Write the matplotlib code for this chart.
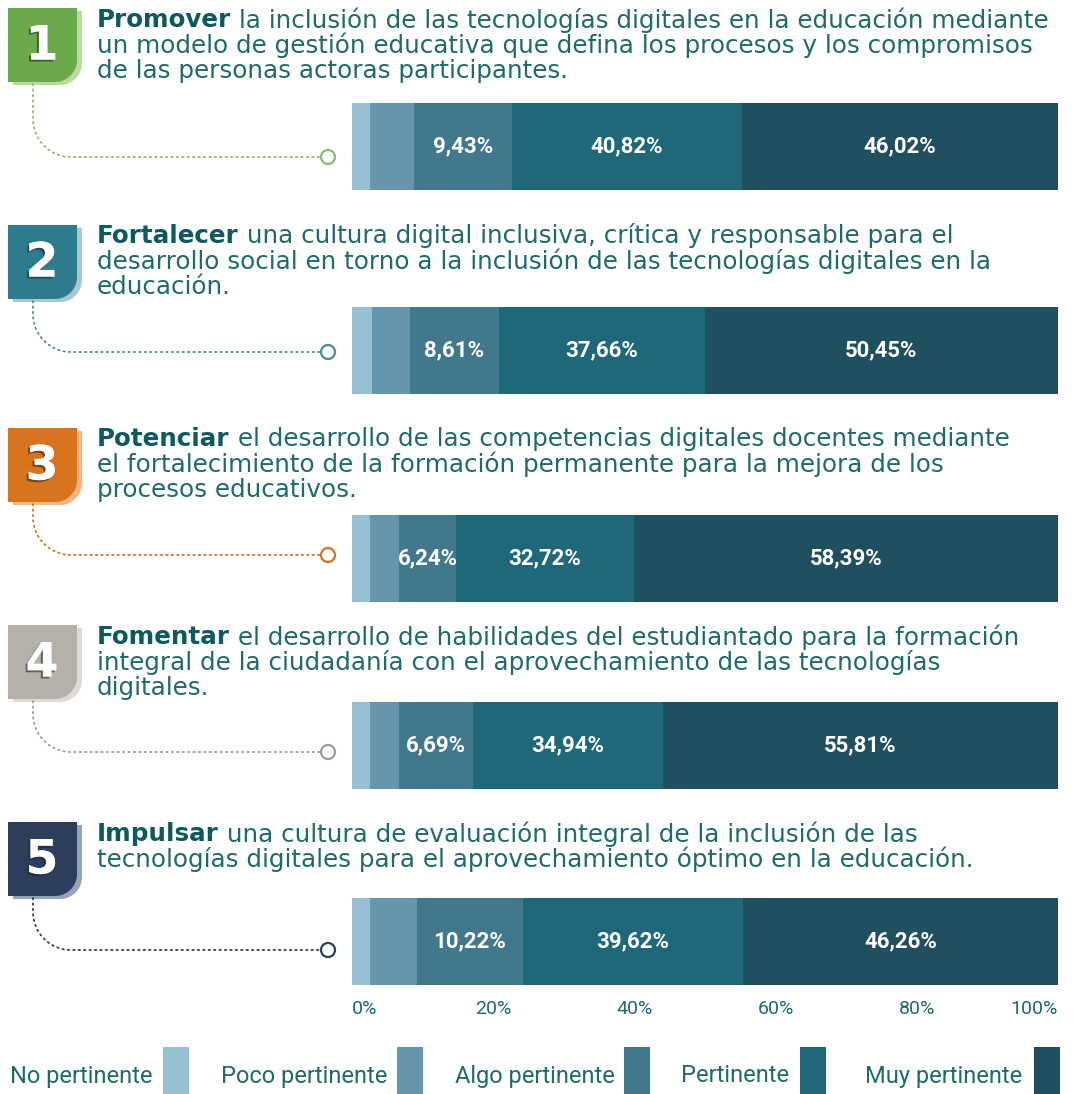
import numpy as np
import matplotlib
matplotlib.use('Agg')
import matplotlib.pyplot as plt
from matplotlib.patches import Polygon, Circle, Rectangle
from matplotlib import patheffects as pe

# categorias y colores de la escala
categorias = ['No pertinente', 'Poco pertinente', 'Algo pertinente', 'Pertinente', 'Muy pertinente']
colores = ['#97c0d3', '#6696ad', '#41788b', '#1e687a', '#20505f']

# ancho de cada tramo tal como aparece dibujado (%), una lista por categoria
no_pert = [2.6, 2.8, 2.6, 2.6, 2.6]
poco_pert = [6.2, 5.4, 4.0, 4.1, 6.6]
algo_pert = [13.8, 12.6, 8.2, 10.5, 15.0]
pert = [32.7, 29.2, 25.1, 26.8, 31.2]
muy_pert = [44.7, 50.0, 60.1, 56.0, 44.6]

# etiquetas impresas en las barras
etq_algo = ['9,43%', '8,61%', '6,24%', '6,69%', '10,22%']
etq_pert = ['40,82%', '37,66%', '32,72%', '34,94%', '39,62%']
etq_muy = ['46,02%', '50,45%', '58,39%', '55,81%', '46,26%']

numeros = ['1', '2', '3', '4', '5']
verbos = ['Promover', 'Fortalecer', 'Potenciar', 'Fomentar', 'Impulsar']
textos = [
    [' la inclusión de las tecnologías digitales en la educación mediante',
     'un modelo de gestión educativa que defina los procesos y los compromisos',
     'de las personas actoras participantes.'],
    [' una cultura digital inclusiva, crítica y responsable para el',
     'desarrollo social en torno a la inclusión de las tecnologías digitales en la',
     'educación.'],
    [' el desarrollo de las competencias digitales docentes mediante',
     'el fortalecimiento de la formación permanente para la mejora de los',
     'procesos educativos.'],
    [' el desarrollo de habilidades del estudiantado para la formación',
     'integral de la ciudadanía con el aprovechamiento de las tecnologías',
     'digitales.'],
    [' una cultura de evaluación integral de la inclusión de las',
     'tecnologías digitales para el aprovechamiento óptimo en la educación.'],
]
ticks = [0, 20, 40, 60, 80, 100]
tick_labels = ['0%', '20%', '40%', '60%', '80%', '100%']

# colores de las cajas numeradas (principal, sombra)
caja_col = ['#6aaa4b', '#2d7b8d', '#d8731e', '#b5b0aa', '#2c3e5c']
caja_sombra = ['#b9dc9e', '#a5c9d2', '#f2b57e', '#dedbd7', '#95a3bb']
linea_col = ['#8bbb6c', '#4b8c9b', '#d8731e', '#a19d98', '#2c3e5c']

# posiciones (px desde arriba)
caja_top = [8, 225, 428, 625, 822]
titulo_y = [20, 236, 439, 637, 834]
barra_y = [146, 350, 558, 745, 941]
circulo_y = [157, 352, 555, 752, 950]

col_bold = '#0d5a5e'
col_txt = '#1f6a6c'

W, H = 1087, 1094
fig = plt.figure(figsize=(W / 100, H / 100), dpi=100, facecolor='white')

# eje de fondo en pixeles
ax0 = fig.add_axes([0, 0, 1, 1])
ax0.set_xlim(0, W)
ax0.set_ylim(H, 0)
ax0.axis('off')

# eje de barras
bottom_px = 990
ax = fig.add_axes([352 / W, (H - bottom_px) / H, 706 / W, bottom_px / H])
ax.set_xlim(0, 100)
ax.set_ylim(bottom_px, 0)
ax.patch.set_alpha(0)
for s in ax.spines.values():
    s.set_visible(False)
ax.set_yticks([])

series = [no_pert, poco_pert, algo_pert, pert, muy_pert]
left = np.zeros(5)
for vals, c in zip(series, colores):
    ax.barh(barra_y, vals, left=left, height=87, color=c, edgecolor='none')
    left = left + np.array(vals)

izq_algo = np.array(no_pert) + np.array(poco_pert)
izq_pert = izq_algo + np.array(algo_pert)
izq_muy = izq_pert + np.array(pert)
for i in range(5):
    for x0, w, t in [(izq_algo[i], algo_pert[i], etq_algo[i]),
                     (izq_pert[i], pert[i], etq_pert[i]),
                     (izq_muy[i], muy_pert[i], etq_muy[i])]:
        ax.text(x0 + w / 2, barra_y[i], t, ha='center', va='center',
                color='white', fontsize=16, fontweight='bold', family='Roboto')

ax.set_xticks(ticks)
ax.set_xticklabels(tick_labels)
ax.tick_params(axis='x', length=0, pad=7, labelsize=14, labelcolor='#1f6a6c')
for lab in ax.get_xticklabels():
    lab.set_family('Roboto')
ax.get_xticklabels()[0].set_ha('left')
ax.get_xticklabels()[-1].set_ha('right')

# cajas numeradas, lineas punteadas y circulos
r = 22
def caja(x0, y0, w, h):
    ang = np.linspace(0, np.pi / 2, 20)
    cx, cy = x0 + w - r, y0 + h - r
    arco = np.column_stack([cx + r * np.cos(ang), cy + r * np.sin(ang)])
    pts = np.vstack([[x0, y0], [x0 + w, y0], arco, [x0, y0 + h]])
    return pts

for i in range(5):
    y0 = caja_top[i]
    ax0.add_patch(Polygon(caja(13, y0 + 3, 69, 74), closed=True, color=caja_sombra[i], lw=0))
    ax0.add_patch(Polygon(caja(8, y0, 69, 74), closed=True, color=caja_col[i], lw=0))
    ax0.text(42, y0 + 39, numeros[i], ha='center', va='center', color='white',
             fontsize=34, fontweight='bold', family='DejaVu Sans',
             path_effects=[pe.withSimplePatchShadow(offset=(-1.5, -1.5), shadow_rgbFace='#222222', alpha=0.55),
                           pe.Normal()])
    # conector punteado
    R = 38
    yc = circulo_y[i]
    ang = np.linspace(np.pi, np.pi / 2, 25)
    xs = np.concatenate([[33], 33 + R + R * np.cos(ang), [321]])
    ys = np.concatenate([[y0 + 76], yc - R + R * np.sin(ang), [yc]])
    ax0.plot(xs, ys, color=linea_col[i], lw=1.3, ls=(0, (0.8, 2.2)), dash_capstyle='round')
    ax0.add_patch(Circle((328, yc), 7, facecolor='white', edgecolor=linea_col[i], lw=1.6))

# titulos con la primera palabra en negrita
fig.canvas.draw()
renderer = fig.canvas.get_renderer()
fs = 17.7
for i in range(5):
    y = titulo_y[i]
    tb = ax0.text(97, y, verbos[i], ha='left', va='center', fontsize=fs,
                  fontweight='bold', color=col_bold, family='DejaVu Sans')
    bb = tb.get_window_extent(renderer)
    ax0.text(97 + bb.width, y, textos[i][0], ha='left', va='center', fontsize=fs,
             color=col_txt, family='DejaVu Sans')
    for k, linea in enumerate(textos[i][1:]):
        ax0.text(97, y + 25.5 * (k + 1), linea, ha='left', va='center', fontsize=fs,
                 color=col_txt, family='DejaVu Sans')

# leyenda
ley_txt_x = [152, 387, 615, 789, 1022]
ley_sw_x = [163, 397, 624, 800, 1034]
for t, xt, xs_, c in zip(categorias, ley_txt_x, ley_sw_x, colores):
    ax0.text(xt, 1076, t, ha='right', va='center', fontsize=17, color='#1f6a6c', family='Roboto')
    ax0.add_patch(Rectangle((xs_, 1047), 26, 50, color=c, lw=0))

fig.savefig('out.png', dpi=100, facecolor='white')
